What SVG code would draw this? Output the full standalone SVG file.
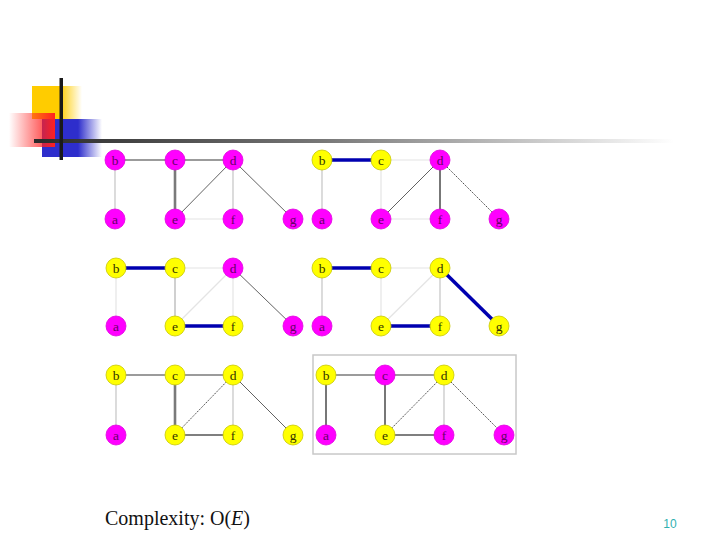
<svg xmlns="http://www.w3.org/2000/svg" width="720" height="540" viewBox="0 0 720 540">
<defs>
<linearGradient id="gLine" x1="0" y1="0" x2="1" y2="0">
<stop offset="0" stop-color="#2a2a2a"/><stop offset="0.45" stop-color="#777"/><stop offset="1" stop-color="#fff"/>
</linearGradient>
<linearGradient id="gYel" x1="0" y1="0" x2="1" y2="0">
<stop offset="0" stop-color="#ffcc00"/><stop offset="0.55" stop-color="#ffcc00"/><stop offset="1" stop-color="#ffcc00" stop-opacity="0"/>
</linearGradient>
<linearGradient id="gRed" x1="0" y1="0" x2="1" y2="0">
<stop offset="0" stop-color="#ff2020" stop-opacity="0"/><stop offset="1" stop-color="#ff2020"/>
</linearGradient>
<linearGradient id="gBlu" x1="0" y1="0" x2="1" y2="0">
<stop offset="0" stop-color="#2e2ecc"/><stop offset="0.6" stop-color="#2e2ecc"/><stop offset="1" stop-color="#2e2ecc" stop-opacity="0"/>
</linearGradient>
</defs>
<style>
.m circle{fill:#ff00ff;stroke:#e000e0;stroke-width:0.8}
.y circle{fill:#ffff00;stroke:#c8c800;stroke-width:0.8}
.m text{fill:#660066}
.y text{fill:#333300}
text.l{font-family:"Liberation Serif",serif;font-size:13.5px;text-anchor:middle}
line{fill:none}
.lt{stroke:#c4c4c4;stroke-width:1.2}
.vl{stroke:#e4e4e4;stroke-width:1.2}
.md{stroke:#7a7a7a;stroke-width:1.6}
.th{stroke:#7a7a7a;stroke-width:2.6}
.dk{stroke:#3a3a3a;stroke-width:0.8}
.dt{stroke:#3a3a3a;stroke-width:0.9;stroke-dasharray:1.5 1}
.bl{stroke:#0000b0;stroke-width:3.5}
.dg{stroke:#555;stroke-width:1.6}
.lg{stroke:#d0d0d0;stroke-width:2}
</style>
<rect width="720" height="540" fill="#fff"/>
<g id="logo">
<rect x="32" y="86" width="50" height="33" fill="url(#gYel)"/>
<rect x="42" y="119" width="60" height="38" fill="url(#gBlu)"/>
<rect x="9" y="113" width="46" height="34" fill="url(#gRed)"/>
<rect x="34" y="139" width="640" height="4" fill="url(#gLine)"/>
<rect x="59.5" y="78" width="3.5" height="82" fill="#1a1a1a"/>
</g>
<g id="box"><rect x="313" y="355" width="203" height="99" fill="none" stroke="#c8c8c8" stroke-width="1.5"/></g>
<g id="connectors">
<line class="lt" x1="115" y1="160" x2="115" y2="219"/>
<line class="md" x1="115" y1="160" x2="175" y2="160"/>
<line class="md" x1="175" y1="160" x2="233" y2="160"/>
<line class="th" x1="175" y1="160" x2="175" y2="219"/>
<line class="dk" x1="233" y1="160" x2="175" y2="219"/>
<line class="lt" x1="233" y1="160" x2="233" y2="219"/>
<line class="dk" x1="233" y1="160" x2="293" y2="219"/>
<line class="vl" x1="175" y1="219" x2="233" y2="219"/>
<line class="lt" x1="322" y1="160" x2="322" y2="219"/>
<line class="bl" x1="322" y1="160" x2="381" y2="160"/>
<line class="vl" x1="381" y1="160" x2="440" y2="160"/>
<line class="vl" x1="381" y1="160" x2="381" y2="219"/>
<line class="dk" x1="440" y1="160" x2="381" y2="219"/>
<line class="dg" x1="440" y1="160" x2="440" y2="219"/>
<line class="dt" x1="440" y1="160" x2="499" y2="219"/>
<line class="vl" x1="381" y1="219" x2="440" y2="219"/>
<line class="vl" x1="116" y1="268" x2="116" y2="326"/>
<line class="bl" x1="116" y1="268" x2="175" y2="268"/>
<line class="vl" x1="175" y1="268" x2="233" y2="268"/>
<line class="lg" x1="175" y1="268" x2="175" y2="326"/>
<line class="vl" x1="233" y1="268" x2="175" y2="326"/>
<line class="vl" x1="233" y1="268" x2="233" y2="326"/>
<line class="dk" x1="233" y1="268" x2="293" y2="326"/>
<line class="bl" x1="175" y1="326" x2="233" y2="326"/>
<line class="lt" x1="322" y1="268" x2="322" y2="326"/>
<line class="bl" x1="322" y1="268" x2="381" y2="268"/>
<line class="vl" x1="381" y1="268" x2="440" y2="268"/>
<line class="vl" x1="381" y1="268" x2="381" y2="326"/>
<line class="vl" x1="440" y1="268" x2="381" y2="326"/>
<line class="lt" x1="440" y1="268" x2="440" y2="326"/>
<line class="bl" x1="440" y1="268" x2="499" y2="326"/>
<line class="bl" x1="381" y1="326" x2="440" y2="326"/>
<line class="lt" x1="116" y1="375" x2="116" y2="435"/>
<line class="md" x1="116" y1="375" x2="175" y2="375"/>
<line class="md" x1="175" y1="375" x2="233" y2="375"/>
<line class="th" x1="175" y1="375" x2="175" y2="435"/>
<line class="dt" x1="233" y1="375" x2="175" y2="435"/>
<line class="lt" x1="233" y1="375" x2="233" y2="435"/>
<line class="dk" x1="233" y1="375" x2="293" y2="435"/>
<line class="dg" x1="175" y1="435" x2="233" y2="435"/>
<line class="dg" x1="326" y1="375" x2="326" y2="435"/>
<line class="md" x1="326" y1="375" x2="385" y2="375"/>
<line class="md" x1="385" y1="375" x2="444" y2="375"/>
<line class="dg" x1="385" y1="375" x2="385" y2="435"/>
<line class="dt" x1="444" y1="375" x2="385" y2="435"/>
<line class="lt" x1="444" y1="375" x2="444" y2="435"/>
<line class="dt" x1="444" y1="375" x2="504" y2="435"/>
<line class="dg" x1="385" y1="435" x2="444" y2="435"/>
</g>
<g id="p1-b" class="m"><circle cx="115" cy="160" r="10"/><text class="l" x="115" y="164.5">b</text></g>
<g id="p1-c" class="m"><circle cx="175" cy="160" r="10"/><text class="l" x="175" y="164.5">c</text></g>
<g id="p1-d" class="m"><circle cx="233" cy="160" r="10"/><text class="l" x="233" y="164.5">d</text></g>
<g id="p1-a" class="m"><circle cx="115" cy="219" r="10"/><text class="l" x="115" y="223.5">a</text></g>
<g id="p1-e" class="m"><circle cx="175" cy="219" r="10"/><text class="l" x="175" y="223.5">e</text></g>
<g id="p1-f" class="m"><circle cx="233" cy="219" r="10"/><text class="l" x="233" y="223.5">f</text></g>
<g id="p1-g" class="m"><circle cx="293" cy="219" r="10"/><text class="l" x="293" y="223.5">g</text></g>
<g id="p2-b" class="y"><circle cx="322" cy="160" r="10"/><text class="l" x="322" y="164.5">b</text></g>
<g id="p2-c" class="y"><circle cx="381" cy="160" r="10"/><text class="l" x="381" y="164.5">c</text></g>
<g id="p2-d" class="m"><circle cx="440" cy="160" r="10"/><text class="l" x="440" y="164.5">d</text></g>
<g id="p2-a" class="m"><circle cx="322" cy="219" r="10"/><text class="l" x="322" y="223.5">a</text></g>
<g id="p2-e" class="m"><circle cx="381" cy="219" r="10"/><text class="l" x="381" y="223.5">e</text></g>
<g id="p2-f" class="m"><circle cx="440" cy="219" r="10"/><text class="l" x="440" y="223.5">f</text></g>
<g id="p2-g" class="m"><circle cx="499" cy="219" r="10"/><text class="l" x="499" y="223.5">g</text></g>
<g id="p3-b" class="y"><circle cx="116" cy="268" r="10"/><text class="l" x="116" y="272.5">b</text></g>
<g id="p3-c" class="y"><circle cx="175" cy="268" r="10"/><text class="l" x="175" y="272.5">c</text></g>
<g id="p3-d" class="m"><circle cx="233" cy="268" r="10"/><text class="l" x="233" y="272.5">d</text></g>
<g id="p3-a" class="m"><circle cx="116" cy="326" r="10"/><text class="l" x="116" y="330.5">a</text></g>
<g id="p3-e" class="y"><circle cx="175" cy="326" r="10"/><text class="l" x="175" y="330.5">e</text></g>
<g id="p3-f" class="y"><circle cx="233" cy="326" r="10"/><text class="l" x="233" y="330.5">f</text></g>
<g id="p3-g" class="m"><circle cx="293" cy="326" r="10"/><text class="l" x="293" y="330.5">g</text></g>
<g id="p4-b" class="y"><circle cx="322" cy="268" r="10"/><text class="l" x="322" y="272.5">b</text></g>
<g id="p4-c" class="y"><circle cx="381" cy="268" r="10"/><text class="l" x="381" y="272.5">c</text></g>
<g id="p4-d" class="y"><circle cx="440" cy="268" r="10"/><text class="l" x="440" y="272.5">d</text></g>
<g id="p4-a" class="m"><circle cx="322" cy="326" r="10"/><text class="l" x="322" y="330.5">a</text></g>
<g id="p4-e" class="y"><circle cx="381" cy="326" r="10"/><text class="l" x="381" y="330.5">e</text></g>
<g id="p4-f" class="y"><circle cx="440" cy="326" r="10"/><text class="l" x="440" y="330.5">f</text></g>
<g id="p4-g" class="y"><circle cx="499" cy="326" r="10"/><text class="l" x="499" y="330.5">g</text></g>
<g id="p5-b" class="y"><circle cx="116" cy="375" r="10"/><text class="l" x="116" y="379.5">b</text></g>
<g id="p5-c" class="y"><circle cx="175" cy="375" r="10"/><text class="l" x="175" y="379.5">c</text></g>
<g id="p5-d" class="y"><circle cx="233" cy="375" r="10"/><text class="l" x="233" y="379.5">d</text></g>
<g id="p5-a" class="m"><circle cx="116" cy="435" r="10"/><text class="l" x="116" y="439.5">a</text></g>
<g id="p5-e" class="y"><circle cx="175" cy="435" r="10"/><text class="l" x="175" y="439.5">e</text></g>
<g id="p5-f" class="y"><circle cx="233" cy="435" r="10"/><text class="l" x="233" y="439.5">f</text></g>
<g id="p5-g" class="y"><circle cx="293" cy="435" r="10"/><text class="l" x="293" y="439.5">g</text></g>
<g id="p6-b" class="y"><circle cx="326" cy="375" r="10"/><text class="l" x="326" y="379.5">b</text></g>
<g id="p6-c" class="m"><circle cx="385" cy="375" r="10"/><text class="l" x="385" y="379.5">c</text></g>
<g id="p6-d" class="y"><circle cx="444" cy="375" r="10"/><text class="l" x="444" y="379.5">d</text></g>
<g id="p6-a" class="m"><circle cx="326" cy="435" r="10"/><text class="l" x="326" y="439.5">a</text></g>
<g id="p6-e" class="y"><circle cx="385" cy="435" r="10"/><text class="l" x="385" y="439.5">e</text></g>
<g id="p6-f" class="m"><circle cx="444" cy="435" r="10"/><text class="l" x="444" y="439.5">f</text></g>
<g id="p6-g" class="m"><circle cx="504" cy="435" r="10"/><text class="l" x="504" y="439.5">g</text></g>
<g id="caption"><text x="105" y="525" font-family="Liberation Serif, serif" font-size="20" fill="#111">Complexity: O(<tspan font-style="italic">E</tspan>)</text></g>
<g id="page"><text x="670" y="528" font-family="Liberation Sans, sans-serif" font-size="12" fill="#30b0b0" text-anchor="middle">10</text></g>
</svg>
